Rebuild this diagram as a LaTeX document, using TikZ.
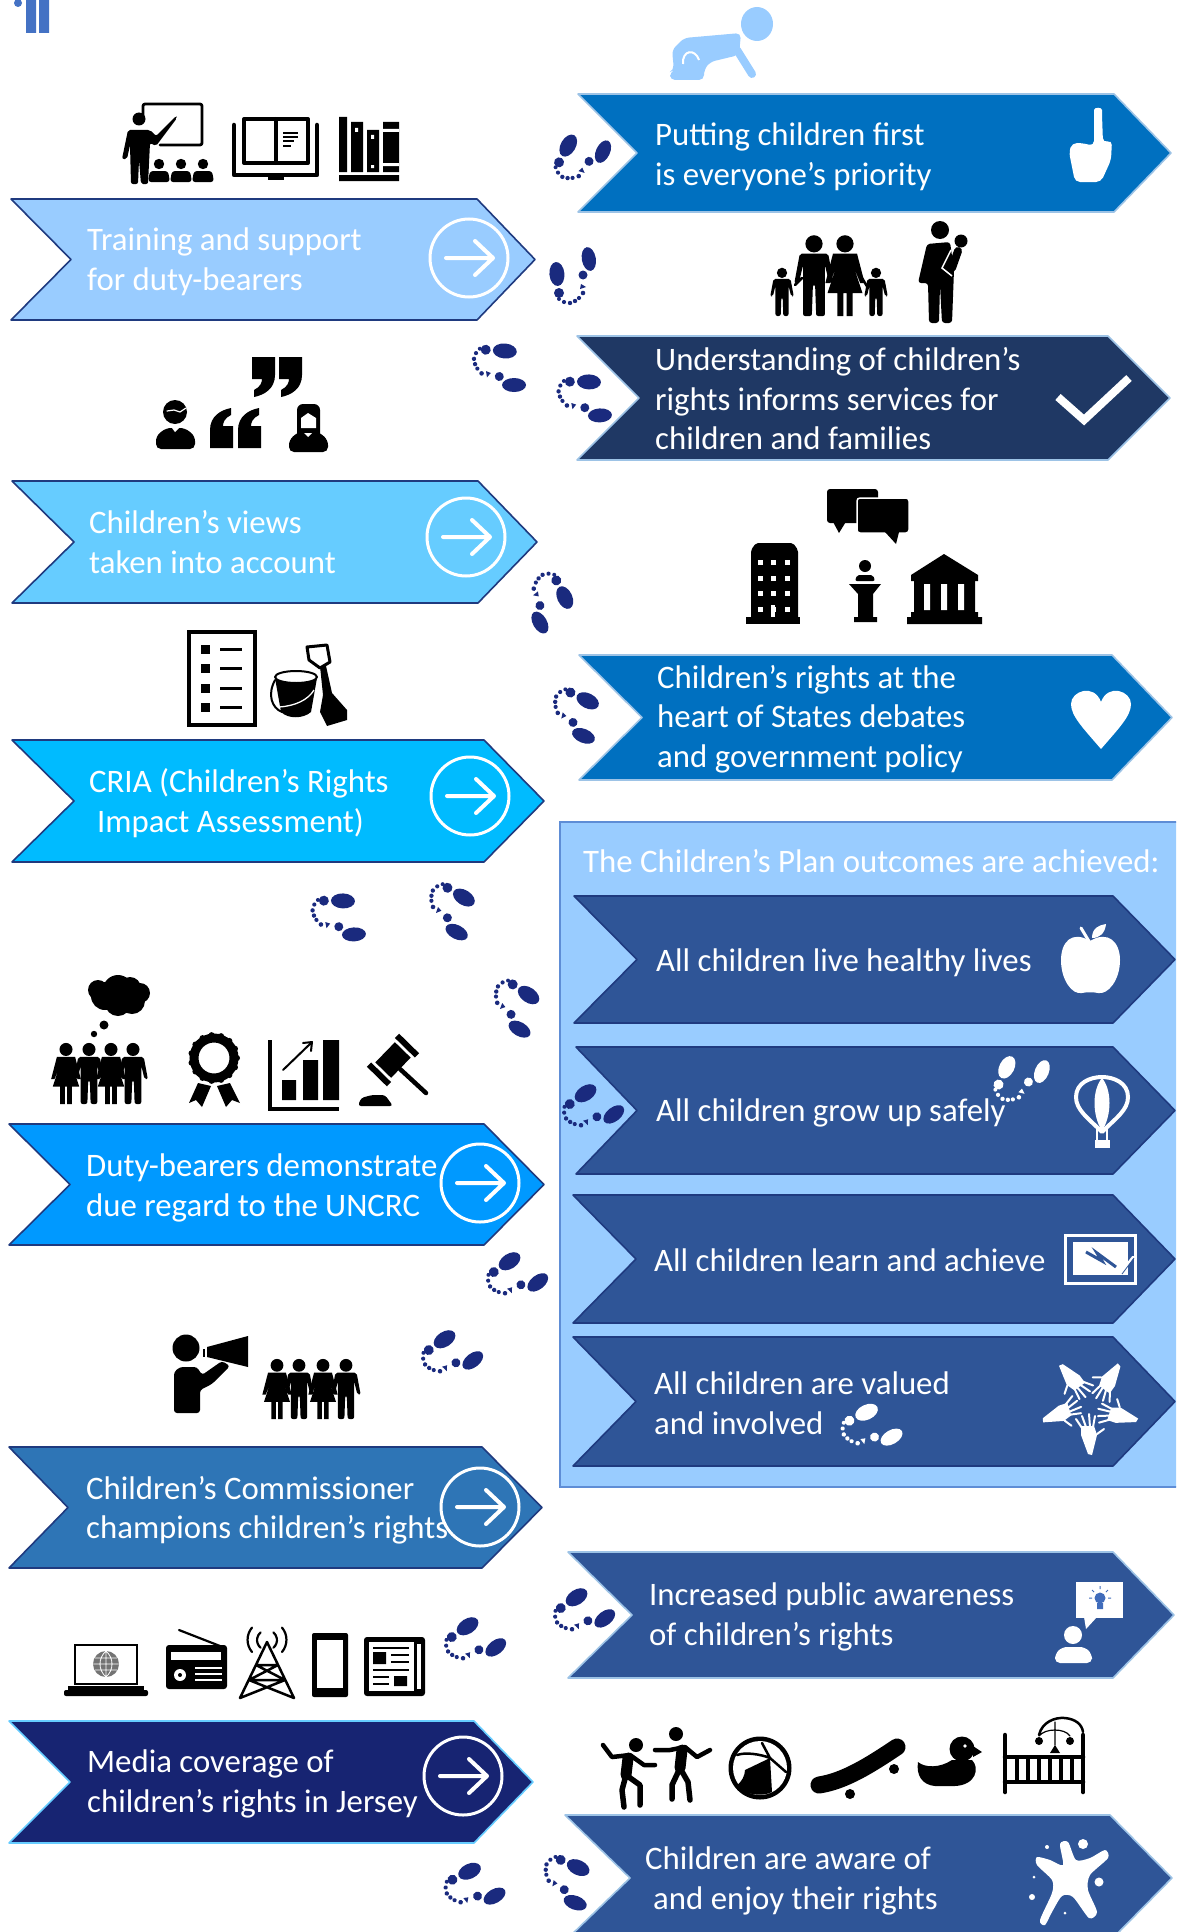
\documentclass[tikz,border=0pt]{standalone}
\usepackage{fontspec}
\setmainfont{Carlito}
\definecolor{navyb}{HTML}{1F3A7F}
\definecolor{lightb}{HTML}{9DC3E6}
\definecolor{foot}{HTML}{1A2A7E}
\definecolor{cA}{HTML}{99CCFF}
\definecolor{cB}{HTML}{66CCFF}
\definecolor{cC}{HTML}{00BBFF}
\definecolor{cD}{HTML}{0099FF}
\definecolor{cE}{HTML}{2E75B6}
\definecolor{cF}{HTML}{172472}
\definecolor{cG}{HTML}{0070C0}
\definecolor{cH}{HTML}{1F3864}
\definecolor{cI}{HTML}{2F5597}
\definecolor{cJ}{HTML}{4472C4}
\tikzset{
  lab/.style={text=white,anchor=west,align=left,inner sep=0pt,font=\fontsize{32.8}{39.5}\selectfont},
  blk/.style={draw=black,line width=#1,line cap=round,line join=round},
  wht/.style={draw=white,line width=#1,line cap=round,line join=round},
  chevshape/.style 2 args={fill=#1,draw=#2,line width=1.6pt,line join=round}
}
\newcommand\ChevShape[8]{\path[chevshape={#7}{#8}] (#1,#5) -- (#3,#5) -- (#4,{(#5+#6)/2}) -- (#3,#6) -- (#1,#6) -- (#2,{(#5+#6)/2}) -- cycle;}
\newcommand\RingArrow[2]{\draw[white,line width=3pt] (#1,#2) circle [radius=39];
  \draw[white,line width=4pt,line cap=round,line join=round] (#1-23,#2) -- (#1+23,#2) (#1+6,#2-17) -- (#1+24,#2) -- (#1+6,#2+17);}
\newcommand\FootSteps[4]{\begin{scope}[shift={(#1,#2)},rotate=#3]
  \fill[#4,rotate around={5:(-16,2)}] (-16,1) ellipse [x radius=7.5,y radius=12];
  \fill[#4,rotate around={10:(16,-13)}] (16,-14) ellipse [x radius=7,y radius=12];
  \fill[#4] (-14,20) circle [radius=5] (10,2) circle [radius=4.5];
  \fill[#4] (-14,26) circle [radius=2] (-9,29) circle [radius=2.1] (-3,30) circle [radius=2.2] (2,28) circle [radius=2.2] (6,25) circle [radius=2.1] (10,20) circle [radius=2.3] (8,11) -- (13,14) -- (7,16) -- cycle;
 \end{scope}}
\newcommand\PersonM[3]{\begin{scope}[shift={(#1,#2)}]
  \fill (0,{-#3*.88}) circle [radius={#3*.105}];
  \begin{scope}[xscale=#3/75,yscale=#3/100]
  \fill[rounded corners=2pt] (-13,-76) -- (13,-76) -- (18,-40) -- (14,-40) -- (10,-62) -- (10,0) -- (2,0) -- (1,-38) -- (-1,-38) -- (-2,0) -- (-10,0) -- (-10,-62) -- (-14,-40) -- (-18,-40) -- cycle;
  \end{scope}
 \end{scope}}
\newcommand\PersonF[3]{\begin{scope}[shift={(#1,#2)}]
  \fill (0,{-#3*.88}) circle [radius={#3*.105}];
  \begin{scope}[xscale=#3/75,yscale=#3/100]
  \fill (-11,-76) -- (11,-76) -- (18,-40) -- (14,-40) -- (8,-60) -- (16,-28) -- (7,-28) -- (7,0) -- (1.5,0) -- (1.5,-28) -- (-1.5,-28) -- (-1.5,0) -- (-7,0) -- (-7,-28) -- (-16,-28) -- (-8,-60) -- (-14,-40) -- (-18,-40) -- cycle;
  \end{scope}
 \end{scope}}
\newcommand\QuoteMark[3]{\begin{scope}[shift={(#1,#2)},rotate=#3]
  \fill (0,0) -- (23,0) -- (23,18) .. controls (23,32) and (12,38) .. (2,40) -- (2,33) .. controls (8,30) and (10,26) .. (10,22) -- (0,22) -- cycle;
 \end{scope}}
\newcommand\WHand[1]{\begin{scope}[shift={(1090,1405)},rotate=#1]
  \fill[white] (-2,-50) -- (2,-49) -- (9,-30) -- (9,-21) -- (-4,-21) -- (-7,-30) -- cycle;
  \draw[wht=2pt] (8,-23) -- (14,-14) (4,-22) -- (8,-11) (0,-22) -- (1,-9) (-3,-22) -- (-5,-11) (-7,-29) -- (-14,-24);
 \end{scope}}
\begin{document}
\begin{tikzpicture}[x=1pt,y=-1pt]
\useasboundingbox (0,0) rectangle (1176,1932);
\clip (0,0) rectangle (1176,1932);
\fill[white] (0,0) rectangle (1176,1932);
% ---------- top-left figure
\fill[cJ] (26,0) rectangle (36,33) (39,0) rectangle (49,33) (18,3) circle [radius=4];
% ---------- baby
\fill[cA] (757,24) ellipse [x radius=16,y radius=17];
\fill[cA,rounded corners=5pt] (741,33) -- (684,38) -- (672,50) -- (674,70) -- (670,72) -- (670,80) -- (704,80) -- (704,70) -- (710,62) -- (739,55) -- cycle;
\draw[cA,line width=8pt,line cap=round] (737,50) -- (752,74);
\draw[white,line width=2pt] (683,64) .. controls (682,50) and (695,48) .. (699,60);
% ---------- left chevrons
\ChevShape{11}{71}{477}{535}{199}{320}{cA}{navyb}
\ChevShape{12}{74}{478}{537}{481}{603}{cB}{navyb}
\ChevShape{12}{74}{484}{544}{740}{862}{cC}{navyb}
\ChevShape{9}{70}{484}{544}{1124}{1245}{cD}{navyb}
\ChevShape{9}{68}{482}{542}{1447}{1568}{cE}{navyb}
\ChevShape{9}{70}{474}{533}{1721}{1843}{cF}{cB}
\node[lab] (l1) at (87,262) {Training and support\\for duty-bearers};
\node[lab] (l2) at (89,542) {Children’s views\\taken into account};
\node[lab] (l3) at (89,803) {CRIA (Children’s Rights\\\hspace*{8pt}Impact Assessment)};
\node[lab] (l4) at (86,1188) {Duty-bearers demonstrate\\due regard to the UNCRC};
\node[lab] (l5) at (86,1510) {Children’s Commissioner\\champions children’s rights};
\node[lab] (l6) at (87,1784) {Media coverage of\\children’s rights in Jersey};
\RingArrow{469}{258}
\RingArrow{466}{537}
\RingArrow{470}{796}
\RingArrow{480}{1183}
\RingArrow{480}{1507}
\RingArrow{463}{1776}
% ---------- right chevrons
\ChevShape{578}{637}{1114}{1171}{94}{212}{cG}{lightb}
\ChevShape{577}{639}{1108}{1170}{336}{460}{cH}{lightb}
\ChevShape{579}{642}{1112}{1172}{655}{780}{cG}{lightb}
\fill[cA] (560,822) rectangle (1178,1487);
\draw[cJ!70!cA,line width=2pt] (1178,822) -- (560,822) -- (560,1487) -- (1178,1487);
\ChevShape{574}{637}{1113}{1175}{896}{1023}{cI}{navyb}
\ChevShape{576}{637}{1113}{1175}{1047}{1174}{cI}{navyb}
\ChevShape{573}{636}{1113}{1175}{1195}{1323}{cI}{navyb}
\ChevShape{573}{636}{1113}{1175}{1337}{1466}{cI}{navyb}
\ChevShape{568}{632}{1113}{1174}{1552}{1678}{cI}{lightb}
\ChevShape{565}{630}{1110}{1172}{1815}{1941}{cI}{lightb}
\node[lab] (r1) at (655,157) {Putting children first\\is everyone’s priority};
\node[lab] (r2) at (655,399) {Understanding of children’s\\rights informs services for\\children and families};
\node[lab] (r3) at (657,719) {Children’s rights at the\\heart of States debates\\and government policy};
\node[lab] (ttl) at (583,861) {The Children’s Plan outcomes are achieved:};
\node[lab] (o1) at (656,963) {All children live healthy lives};
\node[lab] (o2) at (656,1113) {All children grow up safely};
\node[lab] (o3) at (654,1260) {All children learn and achieve};
\node[lab] (o4) at (654,1403) {All children are valued\\and involved};
\node[lab] (r4) at (649,1617) {Increased public awareness\\of children’s rights};
\node[lab] (r5) at (645,1881) {Children are aware of\\\hspace*{8pt}and enjoy their rights};
% ---------- footprints
\FootSteps{582}{154}{-35}{foot}
\FootSteps{573}{273}{0}{foot}
\FootSteps{588}{398}{-97}{foot}
\FootSteps{503}{367}{-100}{foot}
\FootSteps{550}{604}{-160}{foot}
\FootSteps{580}{715}{-122}{foot}
\FootSteps{342}{917}{-97}{foot}
\FootSteps{455}{911}{-127}{foot}
\FootSteps{519}{1008}{-130}{foot}
\FootSteps{518}{1275}{-62}{foot}
\FootSteps{453}{1353}{-62}{foot}
\FootSteps{476}{1640}{-62}{foot}
\FootSteps{476}{1886}{-70}{foot}
\FootSteps{594}{1107}{-62}{foot}
\FootSteps{1021}{1075}{-32}{white}
\FootSteps{873}{1427}{-70}{white}
\FootSteps{585}{1611}{-62}{foot}
\FootSteps{571}{1882}{-120}{foot}
% ---------- teacher
\draw[blk=2.8pt,rounded corners=2pt] (143,116) -- (143,104) -- (202,104) -- (202,145) -- (160,145);
\fill (139,119) circle [radius=6.5];
\fill[rounded corners=2pt] (128,130) -- (150,130) -- (156,136) -- (176,116) -- (177,118) -- (156,146) -- (150,143) -- (148,184) -- (141,184) -- (139,160) -- (138,184) -- (131,184) -- (130,145) -- (127,159) -- (122,159) -- cycle;
\foreach \xx in {159,181,203}{\fill (\xx,164) circle [radius=5.2];
  \fill[rounded corners=3pt] (\xx-11,182) -- (\xx-9,171) -- (\xx+9,171) -- (\xx+11,182) -- cycle;}
% ---------- open book
\draw[blk=4pt] (244,119) rectangle (308,163) (276,119) -- (276,163);
\draw[blk=4.5pt] (234,125) -- (234,175) -- (317,175) -- (317,125);
\fill (268,175) rectangle (284,180);
\draw[black,line width=1.8pt] (283,133) -- (298,133) (283,137) -- (298,137) (283,141) -- (294,141) (283,146) -- (291,146);
% ---------- shelf
\fill (339,117) rectangle (347,172) (351,122) rectangle (363,172) (367,130) rectangle (379,172) (383,122) rectangle (399,172) (339,175) rectangle (399,181);
\fill[white] (355,128) rectangle (358,132) (371,135) rectangle (374,139) (371,165) rectangle (374,168) (383,129) rectangle (399,132) (383,163) rectangle (399,166);
% ---------- quotes and people
\QuoteMark{252}{357}{0}
\QuoteMark{279}{357}{0}
\QuoteMark{233}{448}{180}
\QuoteMark{261}{448}{180}
\fill (175,412) circle [radius=12];
\fill[rounded corners=5pt] (156,449) -- (156,436) -- (166,428) -- (185,428) -- (195,436) -- (195,449) -- cycle;
\draw[wht=1.2pt] (167,411) -- (174,410) -- (180,412) -- (186,408);
\fill[white] (172,428) -- (175,432) -- (179,428) -- cycle;
\fill[rounded corners=6pt] (297,440) -- (297,404) -- (320,404) -- (320,440) -- cycle;
\fill[white] (301,418) -- (308,413) -- (316,418) -- (316,428) -- (301,428) -- cycle;
\fill[rounded corners=5pt] (289,452) -- (289,440) -- (298,432) -- (319,432) -- (328,440) -- (328,452) -- cycle;
\fill[white] (304,433) -- (308,437) -- (312,433) -- cycle;
% ---------- checklist, spade and bucket
\draw[black,line width=4.5pt] (189,632) rectangle (255,725);
\foreach \yy in {649,668,688,707}{\fill (200.5,\yy-4.5) rectangle (209.5,\yy+4.5);
  \draw[black,line width=3pt] (220,\yy) -- (242,\yy);}
\fill (320,666) -- (326,666) -- (332,693) -- (347,710) -- (347,720) -- (327,726) -- (320,712) -- (323,695) -- cycle;
\draw[blk=3pt] (309,660) -- (307,647) -- (327,645) -- (330,662) -- (320,668) -- cycle;
\fill (275,678) -- (317,678) -- (311,712) .. controls (303,719) and (288,719) .. (281,712) -- cycle;
\draw[blk=2pt,fill=white] (296,677) ellipse [x radius=21,y radius=6];
\draw[blk=2pt] (275,680) .. controls (267,695) and (272,708) .. (282,712);
\draw[white,line width=1.3pt] (279,707) .. controls (295,706) and (308,700) .. (314,690);
% ---------- thought, group
\fill (118,990) circle [radius=15] (105,996) circle [radius=14] (98,990) circle [radius=10] (118,1003) circle [radius=13] (132,1001) circle [radius=13] (140,993) circle [radius=10] (130,988) circle [radius=11];
\fill (104,1025) circle [radius=4.5] (94,1034) circle [radius=3.2];
\PersonF{66}{1104}{62}
\PersonM{89}{1104}{62}
\PersonF{111}{1104}{62}
\PersonM{133}{1104}{62}
% ---------- rosette
\draw[black,line width=9pt] (214,1058) circle [radius=20];
\foreach \a in {0,24,...,336}{\fill ({214+23*cos(\a)},{1058+23*sin(\a)}) circle [radius=3];}
\fill (198,1083) -- (211,1086) -- (202,1107) -- (196,1100) -- (189,1103) -- cycle;
\fill (230,1083) -- (217,1086) -- (226,1107) -- (232,1100) -- (240,1103) -- cycle;
% ---------- chart
\draw[black,line width=3.5pt] (270,1040) -- (270,1109) -- (339,1109);
\fill (282,1080) rectangle (296,1100) (303,1060) rectangle (318,1100) (323,1040) rectangle (339,1100);
\draw[blk=2pt] (283,1070) -- (311,1043) (303,1043) -- (312,1042) -- (311,1051);
% ---------- gavel
\draw[black,line width=4.5pt,line cap=round] (400,1069) -- (426,1093);
\fill (410.7,1057.6) -- (394.9,1042.2) -- (375.3,1062.4) -- (391.1,1077.8) -- cycle;
\draw[black,line width=6pt] (417,1055.4) -- (397,1035.8) (389,1084.2) -- (369,1064.6);
\fill[rounded corners=3pt] (358,1106) -- (361,1098) -- (372,1095) -- (385,1095) -- (393,1106) -- cycle;
% ---------- megaphone, group
\fill (186,1348) circle [radius=13.5];
\fill[rounded corners=3pt] (174,1413) -- (174,1372) -- (180,1367) -- (197,1367) -- (202,1375) -- (222,1361) -- (230,1366) -- (212,1384) -- (200,1390) -- (200,1413) -- cycle;
\fill (207,1347) -- (248,1336) -- (248,1367) -- (207,1357) -- cycle;
\fill (203,1349) rectangle (205,1357);
\PersonF{277}{1419}{61}
\PersonM{299}{1419}{61}
\PersonF{323}{1419}{61}
\PersonM{346}{1419}{61}
% ---------- family
\PersonF{845}{316}{82}
\PersonM{814}{316}{82}
\draw[blk=2.5pt] (795,285) -- (802,278) (862,278) -- (868,288);
\PersonM{782}{316}{49}
\PersonM{876}{316}{49}
\fill (940,230) circle [radius=9];
\fill[rounded corners=3pt] (927,244) -- (950,242) -- (954,270) -- (952,323) -- (942,323) -- (940,285) -- (939,323) -- (929,323) -- (928,283) -- (918,283) -- cycle;
\fill (961,241) circle [radius=6.5];
\draw[blk=8pt] (958,251) -- (952,268);
\draw[white,line width=1.5pt] (951,250) -- (942,268) -- (952,276);
% ---------- hand, check, heart
\fill[white,rounded corners=5pt] (1069,152) -- (1072,143) -- (1082,143) -- (1094,146) -- (1094,115) .. controls (1094,107) and (1102,107) .. (1102,115) -- (1103,143) -- (1112,140) -- (1111,160) -- (1101,182) -- (1075,182) -- cycle;
\draw[white,line width=8pt,line join=miter] (1058,397) -- (1084,420) -- (1129,378);
\fill[white] (1101,749) .. controls (1083,728) and (1071,716) .. (1071,704) .. controls (1071,691) and (1094,683) .. (1101,702) .. controls (1108,683) and (1131,691) .. (1131,704) .. controls (1131,716) and (1119,728) .. (1101,749) -- cycle;
% ---------- speech bubbles, building, speaker, bank
\fill[rounded corners=3pt] (827,489) rectangle (878,523);
\fill (832,520) -- (839,533) -- (847,520) -- cycle;
\fill[rounded corners=3pt,draw=white,line width=1.5pt] (857,498) rectangle (909,533);
\fill (885,532) -- (896,544) -- (899,532) -- cycle;
\fill[rounded corners=2pt] (751,620) -- (751,550) -- (756,543) -- (793,543) -- (798,550) -- (798,620) -- cycle;
\fill (746,617) rectangle (800,624);
\foreach \yy in {562,578,593,609}{\foreach \xx in {760,773,787}{\fill[white] (\xx-2.5,\yy-2.5) rectangle (\xx+2.5,\yy+2.5);}}
\fill[white] (771,605) rectangle (775,617);
\fill (865,566) circle [radius=6];
\fill[rounded corners=2pt] (855,581) -- (857,575) -- (873,575) -- (875,581) -- cycle;
\fill (849,584) -- (881,584) -- (873,594) -- (873,617) -- (877,617) -- (877,622) -- (854,622) -- (854,617) -- (858,617) -- (858,594) -- cycle;
\fill (944,554) -- (978,575) -- (978,581) -- (911,581) -- (911,575) -- cycle;
\fill (914,581) rectangle (975,612) (911,612) rectangle (978,617) (907,617) rectangle (982,624);
\fill[white] (924,584) rectangle (930,610) (941,584) rectangle (947,610) (958,584) rectangle (964,610);
% ---------- apple
\fill[white] (1090,941) .. controls (1072,930) and (1061,942) .. (1061,960) .. controls (1061,980) and (1072,995) .. (1082,993) .. controls (1086,992) and (1094,992) .. (1098,993) .. controls (1108,995) and (1120,980) .. (1120,960) .. controls (1120,942) and (1108,930) .. (1090,941) -- cycle;
\draw[wht=3pt] (1090,943) -- (1081,928);
\fill[white] (1092,938) .. controls (1092,928) and (1099,925) .. (1106,924) .. controls (1105,933) and (1100,938) .. (1092,938) -- cycle;
% ---------- balloon
\draw[wht=4pt] (1102,1132) .. controls (1088,1118) and (1076,1110) .. (1076,1097) .. controls (1076,1083) and (1090,1077) .. (1102,1077) .. controls (1114,1077) and (1128,1083) .. (1128,1097) .. controls (1128,1110) and (1116,1118) .. (1102,1132) -- cycle;
\fill[white] (1102,1078) .. controls (1092,1090) and (1092,1115) .. (1102,1131) .. controls (1112,1115) and (1112,1090) .. (1102,1078) -- cycle;
\fill[white] (1095,1140) rectangle (1110,1148);
\draw[wht=1.2pt] (1097,1128) -- (1097,1140) (1107,1128) -- (1107,1140);
% ---------- frame
\draw[white,line width=3pt] (1065,1235) rectangle (1135,1283);
\fill[white] (1073,1242) rectangle (1128,1275);
\draw[cI,line width=3pt,line join=miter] (1086,1252) -- (1102,1261) -- (1097,1253) -- (1116,1267);
\draw[wht=2.5pt] (1123,1270) -- (1133,1257);
\draw[cI,line width=.8pt] (1122,1274) -- (1134,1258);
% ---------- hands
\WHand{36}
\WHand{108}
\WHand{180}
\WHand{252}
\WHand{324}
% ---------- idea person
\fill[white] (1076,1582) rectangle (1123,1618);
\fill[white] (1084,1617) -- (1086,1629) -- (1097,1617) -- cycle;
\fill[cJ!80!cI] (1100,1598) circle [radius=5.5] (1097,1603) rectangle (1103,1609);
\draw[cJ!80!cI,line width=1pt] (1100,1586) -- (1100,1589) (1089,1598) -- (1092,1598) (1108,1598) -- (1111,1598) (1092,1590) -- (1094,1592) (1108,1590) -- (1106,1592);
\fill[white] (1073,1635) circle [radius=9];
\fill[white,rounded corners=5pt] (1055,1663) -- (1055,1654) -- (1062,1647) -- (1085,1647) -- (1092,1654) -- (1092,1663) -- cycle;
% ---------- dancers
\fill (636,1745) circle [radius=7] (676,1734) circle [radius=7];
\draw[blk=11pt] (628,1758) -- (626,1775);
\draw[blk=4.5pt] (603,1745) -- (612,1757) -- (630,1755) -- (644,1765) -- (655,1765);
\draw[blk=5.5pt] (626,1775) -- (622,1790) -- (624,1807) (626,1775) -- (640,1785) -- (640,1805);
\draw[blk=11pt] (682,1750) -- (680,1768);
\draw[blk=4.5pt] (655,1750) -- (670,1750) -- (685,1747) -- (697,1757) -- (710,1750);
\draw[blk=5.5pt] (680,1768) -- (672,1785) -- (672,1799) (680,1768) -- (688,1782) -- (690,1800);
% ---------- ball
\fill (760,1768) circle [radius=31.5];
\fill[white] (760,1768) circle [radius=27];
\fill (770,1758) -- (745,1770) .. controls (745,1775) and (742,1782) .. (736,1786) .. controls (745,1795) and (762,1797) .. (772,1792) -- cycle;
\draw[blk=2.5pt] (770,1758) -- (762,1743) (770,1758) -- (786,1772) (770,1758) .. controls (760,1754) and (745,1752) .. (737,1755);
% ---------- skateboard
\draw[blk=17pt] (819,1785) .. controls (845,1781) and (870,1765) .. (897,1747);
\fill (850,1794) circle [radius=5] (894,1769) circle [radius=5];
% ---------- duck
\fill (962,1749) circle [radius=12.5];
\fill (918,1762) .. controls (925,1768) and (940,1768) .. (952,1760) -- (972,1760) .. controls (980,1768) and (976,1785) .. (955,1786) -- (935,1786) .. controls (922,1785) and (916,1775) .. (918,1762) -- cycle;
\fill (973,1746) -- (982,1752) -- (973,1757) -- cycle;
\fill[white] (965,1746) circle [radius=1.8];
% ---------- crib
\draw[blk=4.5pt] (1005,1735) -- (1005,1792) (1083,1735) -- (1083,1792) (1005,1757) -- (1083,1757) (1005,1782) -- (1083,1782);
\foreach \xx in {1017,1028,1039,1050,1061,1072}{\draw[black,line width=4pt] (\xx,1757) -- (\xx,1782);}
\draw[blk=2.5pt] (1039,1735) .. controls (1042,1722) and (1055,1717) .. (1065,1718) .. controls (1075,1719) and (1082,1724) .. (1083,1732);
\fill (1039,1741) circle [radius=4] (1070,1741) circle [radius=4] (1055,1745) -- (1060,1753) -- (1050,1753) -- cycle;
\draw[blk=1.2pt] (1055,1722) -- (1055,1745) (1039,1736) .. controls (1045,1728) and (1065,1728) .. (1070,1736);
% ---------- laptop
\draw[black,line width=2.5pt] (75,1645) rectangle (137,1684);
\fill (68,1686) rectangle (144,1690);
\fill[rounded corners=2pt] (64,1690) rectangle (148,1696);
\fill[black!55] (106,1664) circle [radius=13];
\draw[white,line width=.8pt] (93,1664) -- (119,1664) (95,1658) -- (117,1658) (95,1670) -- (117,1670) (106,1651) -- (106,1677) (106,1651) .. controls (98,1658) and (98,1670) .. (106,1677) (106,1651) .. controls (114,1658) and (114,1670) .. (106,1677);
% ---------- radio
\fill[rounded corners=3pt] (166,1645) rectangle (227,1689);
\draw[blk=2.2pt] (179,1630) -- (220,1646);
\fill[white] (171,1652) rectangle (221,1660);
\draw[white,line width=1.5pt] (195,1668) -- (222,1668) (195,1674) -- (222,1674) (195,1680) -- (222,1680);
\fill[white] (180,1675) circle [radius=6];
\fill (180,1675) circle [radius=2];
% ---------- tower
\draw[blk=2.5pt] (240,1698) -- (267,1642) -- (294,1698) (249,1680) -- (285,1680) (240,1698) -- (285,1680) (294,1698) -- (249,1680) (256,1665) -- (278,1665) (256,1665) -- (285,1680) (278,1665) -- (249,1680);
\draw[blk=2.2pt] (260.6,1647.7) arc [start angle=130,end angle=230,radius=10] (273.4,1647.7) arc [start angle=50,end angle=-50,radius=10] (252,1652) arc [start angle=140,end angle=220,radius=19] (282,1652) arc [start angle=40,end angle=-40,radius=19];
% ---------- phone
\fill[rounded corners=2pt] (312,1633) rectangle (348,1697);
\fill[white] (317,1640) rectangle (343,1688);
% ---------- newspaper
\fill[rounded corners=3pt] (364,1637) rectangle (425,1696);
\fill[white] (369,1642) rectangle (414,1691);
\fill[white] (417,1644) rectangle (421,1689);
\fill (373,1652) rectangle (386,1664) (394,1676) rectangle (407,1686);
\draw[black,line width=1.6pt] (373,1648) -- (409,1648) (391,1655) -- (409,1655) (391,1662) -- (409,1662) (373,1670) -- (409,1670) (373,1677) -- (389,1677) (373,1684) -- (389,1684);
% ---------- splat
\fill[white] plot[smooth cycle,tension=.45] coordinates {(1037,1857) (1050,1860) (1063,1865) (1060,1844) (1068,1842) (1076,1860) (1090,1858) (1105,1850) (1108,1858) (1090,1875) (1088,1890) (1097,1912) (1089,1918) (1073,1897) (1062,1896) (1052,1912) (1045,1925) (1040,1920) (1052,1893) (1052,1880) (1037,1865)};
\fill[white] (1083,1844) circle [radius=5] (1099,1882) circle [radius=4.5] (1032,1897) circle [radius=3] (1047,1847) circle [radius=2] (1034,1877) circle [radius=1.5] (1065,1913) circle [radius=1.5];
\end{tikzpicture}
\end{document}
